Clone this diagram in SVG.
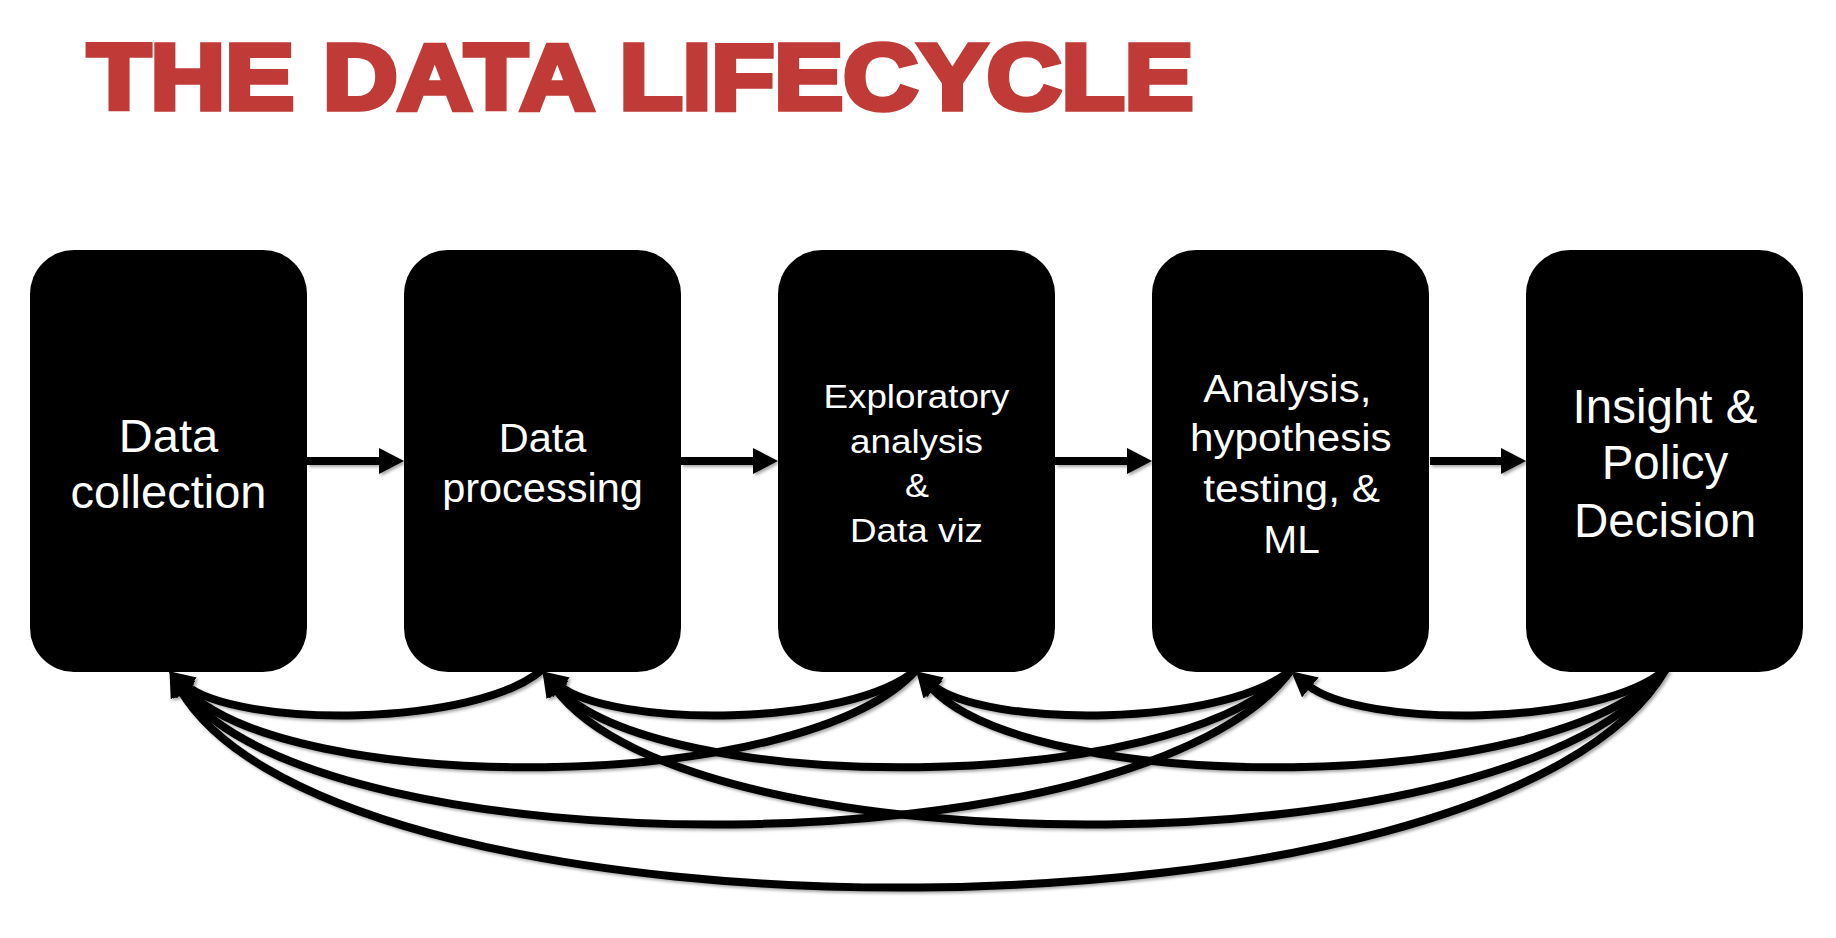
<svg xmlns="http://www.w3.org/2000/svg" width="1836" height="938" viewBox="0 0 1836 938">
<defs>
<style>
.box{fill:#000}
.lbl{fill:#fff;font-family:"Liberation Sans",Arial,Helvetica,sans-serif}
.conn{fill:none;stroke:#000;stroke-width:8}
.title{fill:#c03a38;stroke:#c03a38;stroke-width:5.5;stroke-linejoin:miter;font-family:"Liberation Sans",Arial,sans-serif;font-weight:bold;font-size:92px}
</style>
<marker id="ah" markerUnits="userSpaceOnUse" markerWidth="25" markerHeight="26" viewBox="0 0 25 26" refX="4" refY="13" orient="auto">
<path d="M0,0 L25,13 L0,26 z" fill="#000"/>
</marker>
<filter id="sh" x="-10%" y="-10%" width="120%" height="130%">
<feDropShadow dx="2" dy="2" stdDeviation="1.8" flood-color="#000" flood-opacity="0.35"/>
</filter>
</defs>
<rect width="1836" height="938" fill="#fff"/>
<text id="title" class="title" x="87.5" y="108.5" textLength="1106" lengthAdjust="spacingAndGlyphs">THE DATA LIFECYCLE</text>

<g id="connectors" filter="url(#sh)">
<path class="conn" d="M307,461 H383" marker-end="url(#ah)"/>
<path class="conn" d="M681,461 H757" marker-end="url(#ah)"/>
<path class="conn" d="M1055,461 H1131" marker-end="url(#ah)"/>
<path class="conn" d="M1430,461 H1505" marker-end="url(#ah)"/>

<path class="conn" d="M543,669 C476,728 237,728 185.3,684.8" marker-end="url(#ah)"/>
<path class="conn" d="M917,669 C850,728 610,728 558.3,684.8" marker-end="url(#ah)"/>
<path class="conn" d="M1292,669 C1225,728 984,728 932.3,684.8" marker-end="url(#ah)"/>
<path class="conn" d="M1666,669 C1599,728 1359,728 1307.3,684.8" marker-end="url(#ah)"/>

<path class="conn" d="M917,669 C804,797 283,797 183.4,686.8" marker-end="url(#ah)"/>
<path class="conn" d="M1292,669 C1179,797 656,797 556.4,686.8" marker-end="url(#ah)"/>
<path class="conn" d="M1666,669 C1553,797 1030,797 930.4,686.8" marker-end="url(#ah)"/>

<path class="conn" d="M1292,669 C1146,873 316,873 181.8,688.2" marker-end="url(#ah)"/>
<path class="conn" d="M1666,669 C1520,873 689,873 554.8,688.2" marker-end="url(#ah)"/>

<path class="conn" d="M1666,669 C1501,957 335,957 180,689.3" marker-end="url(#ah)"/>
</g>

<g id="node-collection">
<rect class="box" x="30" y="250" width="277" height="422" rx="44"/>
<text class="lbl" font-size="47" text-anchor="middle"><tspan x="168.5" y="452">Data</tspan><tspan x="168.5" y="508">collection</tspan></text>
</g>
<g id="node-processing">
<rect class="box" x="404" y="250" width="277" height="422" rx="44"/>
<text class="lbl" font-size="41.5" text-anchor="middle"><tspan x="542.5" y="452">Data</tspan><tspan x="542.5" y="502">processing</tspan></text>
</g>
<g id="node-exploratory">
<rect class="box" x="778" y="250" width="277" height="422" rx="44"/>
<text class="lbl" font-size="33" x="823.5" y="408" textLength="186" lengthAdjust="spacingAndGlyphs">Exploratory</text>
<text class="lbl" font-size="33" x="850" y="453" textLength="133" lengthAdjust="spacingAndGlyphs">analysis</text>
<text class="lbl" font-size="33" x="905" y="497" textLength="24" lengthAdjust="spacingAndGlyphs">&amp;</text>
<text class="lbl" font-size="33" x="850" y="542" textLength="133" lengthAdjust="spacingAndGlyphs">Data viz</text>
</g>
<g id="node-analysis">
<rect class="box" x="1152" y="250" width="277" height="422" rx="44"/>
<text class="lbl" font-size="39" x="1203.3" y="402" textLength="168" lengthAdjust="spacingAndGlyphs">Analysis,</text>
<text class="lbl" font-size="39" x="1190" y="451" textLength="201.7" lengthAdjust="spacingAndGlyphs">hypothesis</text>
<text class="lbl" font-size="39" x="1203.3" y="502" textLength="176.7" lengthAdjust="spacingAndGlyphs">testing, &amp;</text>
<text class="lbl" font-size="39" x="1263.3" y="553" textLength="56.7" lengthAdjust="spacingAndGlyphs">ML</text>
</g>
<g id="node-insight">
<rect class="box" x="1526" y="250" width="277" height="422" rx="44"/>
<text class="lbl" font-size="47.5" text-anchor="middle"><tspan x="1665" y="423">Insight &amp;</tspan><tspan x="1665" y="479">Policy</tspan><tspan x="1665" y="537">Decision</tspan></text>
</g>
</svg>
